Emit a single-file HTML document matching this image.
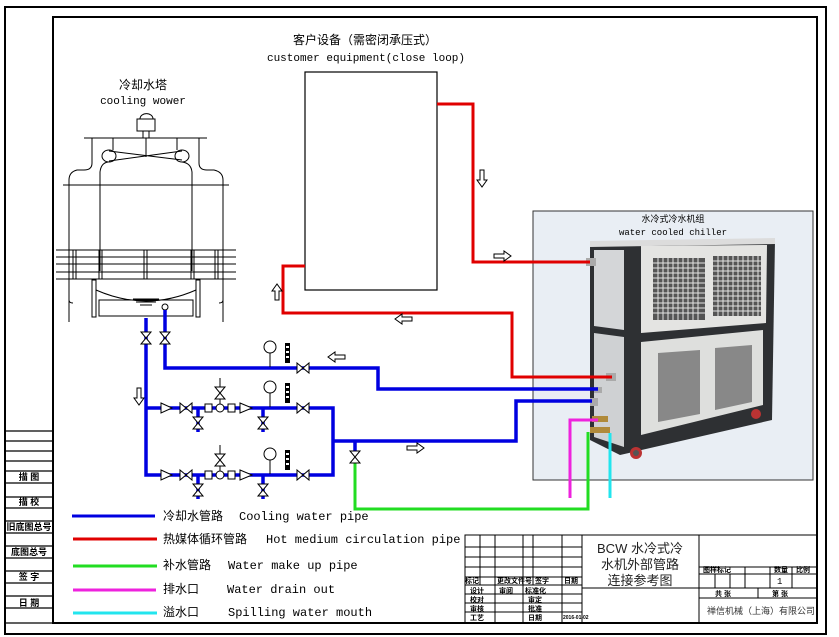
<!DOCTYPE html>
<html><head><meta charset="utf-8"><style>
body{margin:0;background:#fff;}
svg{display:block;}
text{font-family:"Liberation Mono","Noto Sans CJK SC",monospace;}
.cn{font-family:"Liberation Sans","Noto Sans CJK SC",sans-serif;}
</style></head><body>
<svg width="839" height="637" viewBox="0 0 839 637" xmlns="http://www.w3.org/2000/svg">
<defs>
<g id="vh"><polygon points="-6,-5 6,5 6,-5 -6,5" fill="#fff" stroke="#000" stroke-width="1"/></g>
<g id="vv"><polygon points="-5,-6 5,-6 -5,6 5,6" fill="#fff" stroke="#000" stroke-width="1"/></g>
</defs>
<!-- frames -->
<rect x="5" y="7" width="821" height="627" fill="none" stroke="#000" stroke-width="2"/>
<rect x="53" y="17" width="764" height="606" fill="none" stroke="#000" stroke-width="2"/>
<!-- left column -->
<g stroke="#000" stroke-width="1.3">
<line x1="5" y1="431" x2="53" y2="431"/><line x1="5" y1="441" x2="53" y2="441"/><line x1="5" y1="451" x2="53" y2="451"/><line x1="5" y1="461" x2="53" y2="461"/><line x1="5" y1="471" x2="53" y2="471"/><line x1="5" y1="483" x2="53" y2="483"/><line x1="5" y1="497" x2="53" y2="497"/><line x1="5" y1="508" x2="53" y2="508"/><line x1="5" y1="521" x2="53" y2="521"/><line x1="5" y1="533" x2="53" y2="533"/><line x1="5" y1="546" x2="53" y2="546"/><line x1="5" y1="558" x2="53" y2="558"/><line x1="5" y1="571" x2="53" y2="571"/><line x1="5" y1="583" x2="53" y2="583"/><line x1="5" y1="596" x2="53" y2="596"/><line x1="5" y1="608" x2="53" y2="608"/><line x1="5" y1="623" x2="53" y2="623"/>
</g>
<g class="cn" font-size="9" font-weight="bold" text-anchor="middle">
<text x="29" y="480" class="cn">描 图</text><text x="29" y="505" class="cn">描 校</text><text x="29" y="530" class="cn">旧底图总号</text><text x="29" y="555" class="cn">底图总号</text><text x="29" y="580" class="cn">签 字</text><text x="29" y="606" class="cn">日 期</text>
</g>
<!-- title block -->
<g stroke="#000" stroke-width="1" fill="none">
<rect x="465" y="535" width="352" height="88"/>
<line x1="582" y1="535" x2="582" y2="623"/><line x1="699" y1="535" x2="699" y2="623"/>
<line x1="465" y1="547" x2="582" y2="547"/><line x1="465" y1="557" x2="582" y2="557"/><line x1="465" y1="567" x2="582" y2="567"/><line x1="465" y1="577" x2="582" y2="577"/><line x1="465" y1="585" x2="582" y2="585"/><line x1="465" y1="594" x2="582" y2="594"/><line x1="465" y1="603" x2="582" y2="603"/><line x1="465" y1="612" x2="582" y2="612"/>
<line x1="480" y1="535" x2="480" y2="585"/><line x1="495" y1="535" x2="495" y2="623"/><line x1="523" y1="535" x2="523" y2="623"/><line x1="533" y1="535" x2="533" y2="585"/><line x1="562" y1="535" x2="562" y2="623"/>
<line x1="582" y1="588" x2="699" y2="588"/>
<line x1="699" y1="567" x2="817" y2="567"/><line x1="699" y1="574" x2="817" y2="574"/><line x1="699" y1="588" x2="817" y2="588"/><line x1="699" y1="598" x2="817" y2="598"/>
<line x1="715" y1="574" x2="715" y2="588"/><line x1="730" y1="574" x2="730" y2="588"/><line x1="745" y1="567" x2="745" y2="588"/><line x1="770" y1="567" x2="770" y2="588"/><line x1="792" y1="567" x2="792" y2="588"/><line x1="758" y1="588" x2="758" y2="598"/>
</g>
<g class="cn" font-size="7" font-weight="bold">
<text x="465" y="583" class="cn">标记</text><text x="497" y="583" class="cn">更改文件号</text><text x="535" y="583" class="cn">签字</text><text x="564" y="583" class="cn">日期</text>
<text x="470" y="593" class="cn">设计</text><text x="499" y="593" class="cn">审阅</text><text x="525" y="593" class="cn">标准化</text>
<text x="470" y="602" class="cn">校对</text><text x="528" y="602" class="cn">审定</text>
<text x="470" y="611" class="cn">审核</text><text x="528" y="611" class="cn">批准</text>
<text x="470" y="620" class="cn">工艺</text><text x="528" y="620" class="cn">日期</text><text x="563" y="619" font-size="5" class="cn">2016-01-02</text>
<text x="703" y="572" class="cn">图样标记</text><text x="774" y="572" class="cn">数量</text><text x="796" y="572" class="cn">比例</text>
<text x="715" y="596" class="cn">共 张</text><text x="772" y="596" class="cn">第 张</text>
</g>
<text x="777" y="584" font-size="9">1</text>
<text x="707" y="614" font-size="9" fill="#333" class="cn">禅信机械（上海）有限公司</text>
<g class="cn" font-size="13" text-anchor="middle" fill="#222">
<text x="640" y="553" class="cn">BCW 水冷式冷</text><text x="640" y="569" class="cn">水机外部管路</text><text x="640" y="585" class="cn">连接参考图</text>
</g>
<!-- customer equipment -->
<text x="365" y="44" font-size="12" text-anchor="middle" class="cn">客户设备（需密闭承压式）</text>
<text x="366" y="61" font-size="11" text-anchor="middle">customer equipment(close loop)</text>
<rect x="305" y="72" width="132" height="218" fill="#fff" stroke="#000" stroke-width="1.2"/>
<!-- cooling tower -->
<text x="143" y="89" font-size="12" text-anchor="middle" class="cn">冷却水塔</text>
<text x="143" y="104" font-size="11" text-anchor="middle">cooling wower</text>
<g fill="none" stroke="#000" stroke-width="1">
<path d="M140 119 a6 5 0 0 1 13 0"/><rect x="137" y="119" width="18" height="12"/><rect x="143" y="131" width="6" height="7"/>
<line x1="84" y1="138" x2="207" y2="138"/><line x1="146" y1="138" x2="146" y2="157"/>
<line x1="113" y1="138" x2="113" y2="150"/><line x1="177" y1="138" x2="177" y2="150"/>
<ellipse cx="109" cy="156" rx="7" ry="6"/><ellipse cx="182" cy="156" rx="7" ry="6"/>
<path d="M109 151 L182 160 M109 161 L182 151"/>
<path d="M92 138 L92 163 Q92 170 84 170 L77 170 Q69 172 69 180 L69 300 Q69 303 73 303"/>
<path d="M199 138 L199 163 Q199 170 207 170 L214 170 Q223 172 223 180 L223 300 Q223 303 219 303"/>
<path d="M100 271 L100 172 Q101 163 108 162 M192 271 L192 172 Q191 163 182 162"/>
<line x1="63" y1="185" x2="229" y2="185"/>
<line x1="56" y1="250" x2="236" y2="250"/><line x1="56" y1="257" x2="236" y2="257"/><line x1="56" y1="264" x2="236" y2="264"/><line x1="56" y1="272" x2="236" y2="272"/><line x1="56" y1="279" x2="236" y2="279"/>
<line x1="73" y1="250" x2="73" y2="279"/><line x1="76" y1="250" x2="76" y2="279"/><line x1="99" y1="250" x2="99" y2="279"/><line x1="102" y1="250" x2="102" y2="279"/><line x1="144" y1="250" x2="144" y2="279"/><line x1="147" y1="250" x2="147" y2="279"/><line x1="191" y1="250" x2="191" y2="279"/><line x1="194" y1="250" x2="194" y2="279"/><line x1="215" y1="250" x2="215" y2="279"/><line x1="218" y1="250" x2="218" y2="279"/>
<rect x="92" y="280" width="4" height="37"/><rect x="196" y="280" width="4" height="37"/>
<path d="M96 290 Q146 312 196 290"/>
<line x1="69" y1="250" x2="69" y2="322"/><line x1="223" y1="250" x2="223" y2="322"/>
<rect x="99" y="300" width="94" height="16"/>
<line x1="133" y1="299" x2="159" y2="299"/><line x1="136" y1="302" x2="156" y2="302"/><line x1="140" y1="305" x2="152" y2="305"/>
<circle cx="165" cy="307" r="3"/>
</g>
<!-- chiller photo -->
<rect x="533" y="211" width="280" height="269" fill="#e9eef4" stroke="#333" stroke-width="1"/>
<text x="673" y="222" font-size="9" text-anchor="middle" class="cn">水冷式冷水机组</text>
<text x="673" y="235" font-size="9" text-anchor="middle">water cooled chiller</text>
<polygon points="590,244 775,240 772,420 620,455 590,440" fill="#2e3033"/>
<polygon points="590,241 775,238 775,244 590,247" fill="#dcdcdc"/>
<polygon points="594,250 624,250 624,330 594,326" fill="#d4d6d8"/>
<polygon points="594,333 624,337 624,447 594,437" fill="#cfd1d3"/>
<polygon points="641,246 767,245 766,323 641,333" fill="#e4e4e2"/>
<rect x="653" y="258" width="52" height="62" fill="#555"/><rect x="713" y="256" width="48" height="60" fill="#555"/>
<g stroke="#e4e4e2" stroke-width="1">
<path d="M653 263H705M653 268H705M653 273H705M653 278H705M653 283H705M653 288H705M653 293H705M653 298H705M653 303H705M653 308H705M653 313H705M713 261H761M713 266H761M713 271H761M713 276H761M713 281H761M713 286H761M713 291H761M713 296H761M713 301H761M713 306H761M713 311H761"/>
<path d="M658 258V320M663 258V320M668 258V320M673 258V320M678 258V320M683 258V320M688 258V320M693 258V320M698 258V320M718 256V316M723 256V316M728 256V316M733 256V316M738 256V316M743 256V316M748 256V316M753 256V316M758 256V316"/>
</g>
<polygon points="641,342 763,330 763,405 641,435" fill="#dedfdd"/>
<g fill="#888"><polygon points="658,353 700,350 700,414 658,422"/><polygon points="715,348 752,345 752,402 715,410"/></g>
<circle cx="636" cy="453" r="6" fill="#b33"/><circle cx="636" cy="453" r="3" fill="#555"/>
<circle cx="756" cy="414" r="5" fill="#b33"/>
<rect x="586" y="258" width="10" height="8" fill="#aaa"/><rect x="606" y="373" width="10" height="8" fill="#aaa"/>
<rect x="594" y="387" width="8" height="6" fill="#aaa"/><rect x="590" y="398" width="8" height="8" fill="#aaa"/>
<rect x="592" y="416" width="16" height="6" fill="#b08a3a"/><rect x="590" y="427" width="20" height="6" fill="#b08a3a"/>
<!-- red pipes -->
<g fill="none" stroke="#e00000" stroke-width="3">
<polyline points="437,104 473,104 473,262 590,262"/>
<polyline points="305,266 283,266 283,313 512,313 512,377 612,377"/>
</g>
<!-- blue pipes -->
<g fill="none" stroke="#0000e0" stroke-width="3.5">
<polyline points="146,318 146,475 333,475 333,408 146,408"/>
<polyline points="165,310 165,368 378,368 378,389 598,389"/>
<polyline points="333,441 516,441 516,401 592,401"/>
<line x1="198" y1="408" x2="198" y2="432"/><line x1="263" y1="408" x2="263" y2="432"/>
<line x1="198" y1="475" x2="198" y2="499"/><line x1="263" y1="475" x2="263" y2="499"/>
<line x1="355" y1="441" x2="355" y2="452"/>
</g>
<!-- green magenta cyan -->
<polyline points="355,462 355,509 588,509 588,432" fill="none" stroke="#22dd22" stroke-width="3"/>
<polyline points="570,498 570,420 598,420" fill="none" stroke="#ee22dd" stroke-width="3"/>
<line x1="610" y1="498" x2="610" y2="433" stroke="#22e5ee" stroke-width="3"/>
<!-- valves -->
<use href="#vv" x="146" y="338"/><use href="#vv" x="165" y="338"/><use href="#vv" x="355" y="457"/>
<use href="#vh" x="303" y="368"/>
<g fill="#fff" stroke="#000" stroke-width="1">
<circle cx="270" cy="347" r="6"/><line x1="270" y1="353" x2="270" y2="367"/>
<circle cx="270" cy="387" r="6"/><line x1="270" y1="393" x2="270" y2="407"/>
<circle cx="270" cy="454" r="6"/><line x1="270" y1="460" x2="270" y2="474"/>
</g>
<g fill="#000"><rect x="285" y="343" width="5" height="20"/><rect x="285" y="383" width="5" height="20"/><rect x="285" y="450" width="5" height="20"/></g>
<g fill="#fff"><rect x="286" y="346" width="3" height="2"/><rect x="286" y="351" width="3" height="2"/><rect x="286" y="356" width="3" height="2"/><rect x="286" y="386" width="3" height="2"/><rect x="286" y="391" width="3" height="2"/><rect x="286" y="396" width="3" height="2"/><rect x="286" y="453" width="3" height="2"/><rect x="286" y="458" width="3" height="2"/><rect x="286" y="463" width="3" height="2"/></g>
<g id="row">
<use href="#vh" x="186" y="408"/><use href="#vh" x="303" y="408"/>
<use href="#vv" x="198" y="423"/><use href="#vv" x="263" y="423"/>
<g fill="#fff" stroke="#000" stroke-width="1">
<polygon points="161,403 172,408 161,413"/>
<rect x="205" y="404" width="7" height="8"/><rect x="228" y="404" width="7" height="8"/>
<circle cx="220" cy="408" r="4"/>
<line x1="220" y1="378" x2="220" y2="404"/>
<polygon points="240,403 252,408 240,413"/>
</g>
<use href="#vv" x="220" y="393"/>
</g>
<use href="#row" x="0" y="67"/>
<!-- arrows -->
<g fill="#fff" stroke="#000" stroke-width="1">
<polygon points="480,170 484,170 484,180 487,180 482,187 477,180 480,180"/>
<polygon points="494,254 504,254 504,251 511,256 504,261 504,258 494,258"/>
<polygon points="275,300 279,300 279,291 282,291 277,284 272,291 275,291"/>
<polygon points="412,317 402,317 402,314 395,319 402,324 402,321 412,321"/>
<polygon points="345,355 335,355 335,352 328,357 335,362 335,359 345,359"/>
<polygon points="137,388 141,388 141,398 144,398 139,405 134,398 137,398"/>
<polygon points="407,446 417,446 417,443 424,448 417,453 417,450 407,450"/>
</g>
<!-- legend -->
<g stroke-width="3">
<line x1="72" y1="516" x2="155" y2="516" stroke="#0000e0"/>
<line x1="73" y1="539" x2="157" y2="539" stroke="#e00000"/>
<line x1="73" y1="566" x2="157" y2="566" stroke="#22dd22"/>
<line x1="73" y1="590" x2="156" y2="590" stroke="#ee22dd"/>
<line x1="73" y1="613" x2="157" y2="613" stroke="#22e5ee"/>
</g>
<g font-size="12">
<text x="163" y="520" class="cn">冷却水管路</text><text x="239" y="520">Cooling water pipe</text>
<text x="163" y="543" class="cn">热媒体循环管路</text><text x="266" y="543">Hot medium circulation pipe</text>
<text x="163" y="569" class="cn">补水管路</text><text x="228" y="569">Water make up pipe</text>
<text x="163" y="593" class="cn">排水口</text><text x="227" y="593">Water drain out</text>
<text x="163" y="616" class="cn">溢水口</text><text x="228" y="616">Spilling water mouth</text>
</g>
</svg>
</body></html>
